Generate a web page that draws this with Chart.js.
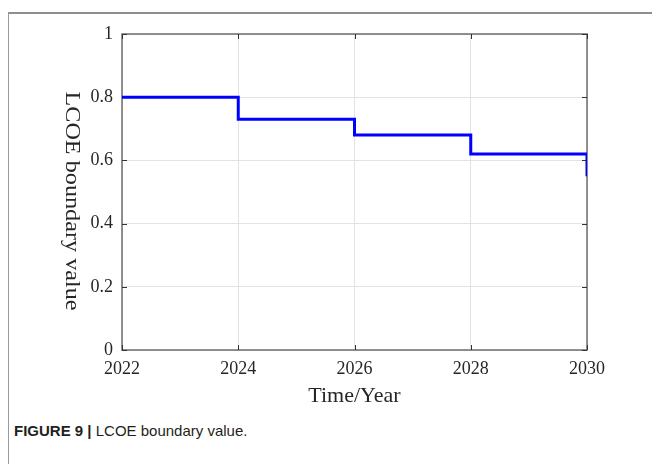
<!DOCTYPE html>
<html>
<head>
<meta charset="utf-8">
<script src="https://cdn.jsdelivr.net/npm/chart.js@4.4.1/dist/chart.umd.min.js"></script>
<style>
  html, body { margin: 0; padding: 0; background: #fff; width: 652px; height: 464px; overflow: hidden; }
  #frame {
    position: absolute; left: 8px; top: 12px; width: 644px; height: 452px;
    border-top: 2px solid #8e8e8e; border-left: 1px solid #9a9a9a; box-sizing: border-box;
  }
  #plot { position: absolute; left: 0; top: 0; }
  #caption {
    position: absolute; left: 14px; top: 422px;
    font-family: "Liberation Sans", Arial, sans-serif; font-size: 15px; color: #231f20;
    white-space: nowrap;
  }
  #caption b { font-weight: bold; }
</style>
</head>
<body>
<div id="frame"></div>
<canvas id="plot" width="652" height="420"></canvas>
<div id="caption"><b>FIGURE 9 |</b> LCOE boundary value.</div>
<script>
// Boundary LCOE per period (value holds until the next year mark)
const years = [2022, 2024, 2026, 2028, 2030];
const boundaryValue = [0.80, 0.73, 0.68, 0.62, 0.55];
const xTicks = [2022, 2024, 2026, 2028, 2030];
const yTicks = [0, 0.2, 0.4, 0.6, 0.8, 1];

const xTitle = 'Time/Year';
const yTitle = 'LCOE boundary value';

const serif = '"Liberation Serif", "Times New Roman", serif';
const textColor = '#262626';

// Box around the plot area with inward tick marks on every side, plus axis titles
const boxAxes = {
  id: 'boxAxes',
  beforeDatasetsDraw(chart) {
    const { ctx, chartArea: a, scales: { x, y } } = chart;
    const tl = 5;
    ctx.save();
    ctx.strokeStyle = '#6e6e6e';
    ctx.lineWidth = 1.5;
    ctx.strokeRect(a.left, a.top, a.right - a.left, a.bottom - a.top);
    ctx.strokeStyle = '#333';
    ctx.lineWidth = 1;
    ctx.beginPath();
    xTicks.forEach(v => {
      const px = Math.round(x.getPixelForValue(v)) + 0.5;
      ctx.moveTo(px, a.bottom); ctx.lineTo(px, a.bottom - tl);
      ctx.moveTo(px, a.top); ctx.lineTo(px, a.top + tl);
    });
    yTicks.forEach(v => {
      const py = Math.round(y.getPixelForValue(v)) + 0.5;
      ctx.moveTo(a.left, py); ctx.lineTo(a.left + tl, py);
      ctx.moveTo(a.right, py); ctx.lineTo(a.right - tl, py);
    });
    ctx.stroke();
    ctx.restore();
  },
  afterDraw(chart) {
    const { ctx, chartArea: a } = chart;
    ctx.save();
    ctx.fillStyle = textColor;
    ctx.font = '22px ' + serif;
    ctx.textAlign = 'center';
    ctx.textBaseline = 'middle';
    ctx.fillText(xTitle, (a.left + a.right) / 2, 396);
    ctx.translate(71.5, 201);
    ctx.rotate(Math.PI / 2);
    ctx.scale(1.1, 1);
    ctx.fillText(yTitle, 0, 0);
    ctx.restore();
  }
};

new Chart(document.getElementById('plot'), {
  type: 'line',
  data: {
    labels: years,
    datasets: [{
      data: years.map((yr, i) => ({ x: yr, y: boundaryValue[i] })),
      borderColor: '#0000ff',
      borderWidth: 3,
      stepped: 'before',
      pointRadius: 0,
      fill: false,
      borderCapStyle: 'butt',
      borderJoinStyle: 'miter'
    }]
  },
  options: {
    responsive: false,
    devicePixelRatio: 1,
    animation: false,
    layout: { padding: { left: 0, top: 34, right: 65, bottom: 0 } },
    plugins: { legend: { display: false }, tooltip: { enabled: false } },
    scales: {
      x: {
        type: 'linear',
        min: 2022, max: 2030,
        afterFit(s) { s.height = 70; },
        afterBuildTicks(s) { s.ticks = xTicks.map(v => ({ value: v })); },
        grid: { color: '#e3e3e3', lineWidth: 1, drawTicks: false },
        border: { display: false },
        ticks: {
          padding: 8,
          color: textColor,
          font: { family: serif, size: 18 },
          maxRotation: 0,
          callback: v => String(v)
        }
      },
      y: {
        min: 0, max: 1,
        afterFit(s) { s.width = 122; },
        afterBuildTicks(s) { s.ticks = yTicks.map(v => ({ value: v })); },
        grid: { color: '#e3e3e3', lineWidth: 1, drawTicks: false },
        border: { display: false },
        ticks: {
          padding: 9,
          color: textColor,
          font: { family: serif, size: 18 },
          callback: v => String(v)
        }
      }
    }
  },
  plugins: [boxAxes]
});
</script>
</body>
</html>
